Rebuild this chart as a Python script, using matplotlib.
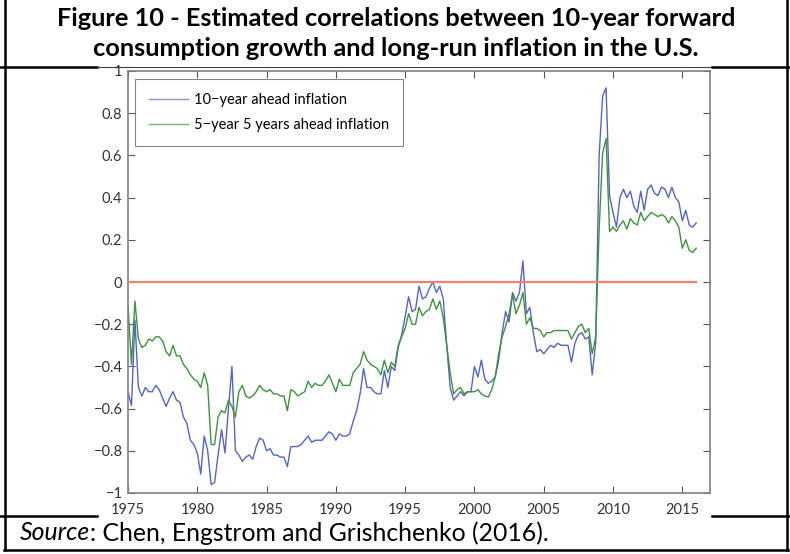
import numpy as np
import matplotlib
matplotlib.use("Agg")
import matplotlib.pyplot as plt
from matplotlib.lines import Line2D

# quarterly, 1975Q1 .. 2016Q1
start_year = 1975
infl_10y = [
    -0.52, -0.585, -0.18, -0.50, -0.54, -0.50, -0.52, -0.52, -0.49, -0.51,
    -0.55, -0.59, -0.55, -0.52, -0.56, -0.57, -0.64, -0.67, -0.75, -0.77,
    -0.81, -0.91, -0.73, -0.80, -0.96, -0.95, -0.82, -0.70, -0.81, -0.60,
    -0.40, -0.80, -0.82, -0.85, -0.83, -0.82, -0.84, -0.78, -0.74, -0.75,
    -0.80, -0.79, -0.82, -0.82, -0.83, -0.83, -0.875, -0.78, -0.78,
    -0.78, -0.77, -0.75, -0.73, -0.76, -0.75, -0.75, -0.75, -0.73, -0.71,
    -0.72, -0.75, -0.72, -0.73, -0.73, -0.72, -0.66, -0.61, -0.53, -0.41,
    -0.50, -0.50, -0.52, -0.53, -0.53, -0.42, -0.50, -0.40, -0.42, -0.31,
    -0.25, -0.165, -0.07, -0.14, -0.13, -0.02, -0.08, -0.07, -0.03, 0.00,
    -0.05, -0.02, -0.08, -0.30, -0.50, -0.56, -0.54, -0.52, -0.54, -0.52,
    -0.52, -0.40, -0.45,
    -0.37, -0.46, -0.48, -0.47, -0.45, -0.37, -0.24, -0.14, -0.19, -0.05,
    -0.09, -0.05, 0.10, -0.15, -0.12, -0.24, -0.33, -0.32, -0.34, -0.32,
    -0.30, -0.31, -0.29, -0.30, -0.30, -0.30, -0.38, -0.29, -0.25, -0.24,
    -0.27, -0.26, -0.44, -0.29,
    0.60, 0.88, 0.92, 0.41, 0.33, 0.26, 0.40, 0.44, 0.40, 0.43,
    0.36, 0.33, 0.43, 0.34, 0.44, 0.46, 0.42, 0.41, 0.45, 0.44,
    0.40, 0.45, 0.40, 0.38, 0.29, 0.34, 0.27, 0.26, 0.28,
]
infl_5y5y = [
    -0.11, -0.39, -0.09, -0.27, -0.31, -0.30, -0.27, -0.28, -0.26, -0.26,
    -0.28, -0.33, -0.35, -0.30, -0.35, -0.35, -0.39, -0.41, -0.44, -0.46,
    -0.47, -0.50, -0.43, -0.49, -0.77, -0.77, -0.64, -0.61, -0.62, -0.56,
    -0.59, -0.64, -0.52, -0.49, -0.54, -0.55, -0.54, -0.52, -0.49, -0.51,
    -0.52, -0.51, -0.53, -0.53, -0.54, -0.54, -0.61, -0.51, -0.52,
    -0.54, -0.53, -0.52, -0.47, -0.50, -0.48, -0.49, -0.49, -0.47, -0.44,
    -0.48, -0.52, -0.46, -0.49, -0.49, -0.49, -0.43, -0.41, -0.39, -0.33,
    -0.37, -0.39, -0.40, -0.41, -0.44, -0.37, -0.43, -0.38, -0.40, -0.30,
    -0.26, -0.22, -0.15, -0.20, -0.20, -0.12, -0.16, -0.14, -0.13, -0.08,
    -0.13, -0.09, -0.17, -0.30, -0.43, -0.53, -0.51, -0.50, -0.53, -0.52,
    -0.52, -0.52, -0.51,
    -0.53, -0.54, -0.545, -0.51, -0.45, -0.34, -0.26, -0.21, -0.15, -0.06,
    -0.15, -0.11, -0.05, -0.20, -0.17, -0.22, -0.22, -0.23, -0.26, -0.24,
    -0.24, -0.23, -0.23, -0.23, -0.23, -0.23, -0.27, -0.24, -0.21, -0.20,
    -0.24, -0.22, -0.34, -0.26,
    0.25, 0.61, 0.68, 0.24, 0.26, 0.24, 0.27, 0.29, 0.25, 0.30,
    0.28, 0.27, 0.33, 0.29, 0.31, 0.33, 0.32, 0.31, 0.32, 0.31,
    0.28, 0.31, 0.29, 0.26, 0.16, 0.20, 0.15, 0.14, 0.16,
]
dates = start_year + np.arange(len(infl_10y)) / 4.0

year_ticks = [1975, 1980, 1985, 1990, 1995, 2000, 2005, 2010, 2015]
corr_ticks = [-1, -0.8, -0.6, -0.4, -0.2, 0, 0.2, 0.4, 0.6, 0.8, 1]
corr_labels = ["\u22121", "\u22120.8", "\u22120.6", "\u22120.4", "\u22120.2", "0",
               "0.2", "0.4", "0.6", "0.8", "1"]

title_lines = ["Figure 10 - Estimated correlations between 10-year forward",
               "consumption growth and long-run inflation in the U.S."]

W, H = 790, 554
fig = plt.figure(figsize=(W / 100, H / 100), dpi=100)
tick_font = "Lato"

ax = fig.add_axes([128 / W, 1 - 493 / H, (710 - 128) / W, (493 - 71) / H])
ax.plot(dates, infl_10y, color="#5565c0", lw=1.0, label="10\u2212year ahead inflation")
ax.plot(dates, infl_5y5y, color="#3f913f", lw=1.0, label="5\u2212year 5 years ahead inflation")
ax.plot([dates[0], dates[-1]], [0, 0], color="#f2826f", lw=1.6, zorder=3)

ax.set_xlim(1975, 2017)
ax.set_ylim(-1, 1)
ax.set_xticks(year_ticks)
ax.set_xticklabels([str(y) for y in year_ticks], family=tick_font, fontsize=10.5, color="#333333")
ax.set_yticks(corr_ticks)
ax.set_yticklabels(corr_labels, family=tick_font, fontsize=10.5, color="#333333")
ax.tick_params(direction="in", length=5, width=0.8, color="#555555",
               top=True, right=True, pad=4)
ax.tick_params(axis="x", pad=7)
for s in ax.spines.values():
    s.set_color("#808080")
    s.set_linewidth(1.2)

leg = ax.legend(loc="upper left", bbox_to_anchor=(0.012, 0.981), borderaxespad=0,
                frameon=True, fancybox=False, prop={"family": tick_font, "size": 10.5},
                handlelength=2.7, handletextpad=0.4, borderpad=0.95, labelspacing=0.75)
leg.get_frame().set_edgecolor("#666666")
leg.get_frame().set_linewidth(0.8)
for h in leg.get_lines():
    h.set_alpha(0.7)

# title box and table lines
for i, line in enumerate(title_lines):
    fig.text(396 / W, 1 - (19 + 29 * i) / H, line, ha="center", va="center",
             fontsize=18.3, fontweight="bold", family="Lato")

src = fig.text(20 / W, 1 - 533 / H, "Source", fontsize=17.8, style="italic",
               family="Lato", va="center")
fig.canvas.draw()
bb = src.get_window_extent()
fig.text(bb.x1 / W, 1 - 533 / H, ": Chen, Engstrom and Grishchenko (2016).",
         fontsize=17.8, family="Lato", va="center")

def hline(x0, x1, y, lw=1.8, c="black"):
    fig.add_artist(Line2D([x0 / W, x1 / W], [1 - y / H, 1 - y / H], color=c, lw=lw,
                          transform=fig.transFigure))

def vline(x, y0, y1, lw=1.8, c="black"):
    fig.add_artist(Line2D([x / W, x / W], [1 - y0 / H, 1 - y1 / H], color=c, lw=lw,
                          transform=fig.transFigure))

hline(0, 97, 66.5)
hline(97, 712, 66.5, lw=0.8, c="#444444")
hline(712, 790, 66.5)
hline(0, 97, 516)
hline(712, 790, 516)
hline(4, 788, 549.5)
vline(5, 0, 550)
vline(786.5, 0, 550)

fig.savefig("out.png", dpi=100)
